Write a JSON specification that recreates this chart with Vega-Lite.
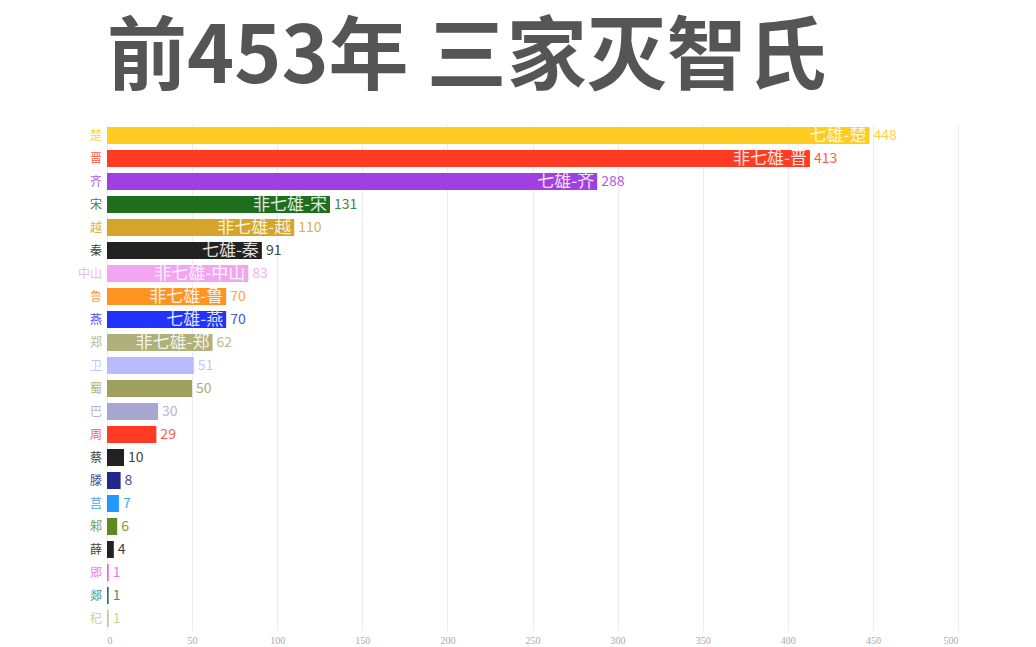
{
  "$schema": "https://vega.github.io/schema/vega-lite/v6.json",
  "width": 851,
  "height": 506,
  "autosize": "none",
  "padding": {"left": 107, "top": 124, "right": 78, "bottom": 17},
  "background": "white",
  "title": {
    "text": "前453年 三家灭智氏",
    "font": "Noto Sans CJK SC",
    "fontSize": 80,
    "fontWeight": "bold",
    "color": "#555555",
    "anchor": "start",
    "frame": "group",
    "offset": 24
  },
  "config": {"view": {"stroke": null}, "font": "Noto Sans CJK SC"},
  "data": {
    "values": [
      {"name": "楚", "value": 448, "label": "七雄-楚"},
      {"name": "晋", "value": 413, "label": "非七雄-晋"},
      {"name": "齐", "value": 288, "label": "七雄-齐"},
      {"name": "宋", "value": 131, "label": "非七雄-宋"},
      {"name": "越", "value": 110, "label": "非七雄-越"},
      {"name": "秦", "value": 91, "label": "七雄-秦"},
      {"name": "中山", "value": 83, "label": "非七雄-中山"},
      {"name": "鲁", "value": 70, "label": "非七雄-鲁"},
      {"name": "燕", "value": 70, "label": "七雄-燕"},
      {"name": "郑", "value": 62, "label": "非七雄-郑"},
      {"name": "卫", "value": 51, "label": ""},
      {"name": "蜀", "value": 50, "label": ""},
      {"name": "巴", "value": 30, "label": ""},
      {"name": "周", "value": 29, "label": ""},
      {"name": "蔡", "value": 10, "label": ""},
      {"name": "滕", "value": 8, "label": ""},
      {"name": "莒", "value": 7, "label": ""},
      {"name": "邾", "value": 6, "label": ""},
      {"name": "薛", "value": 4, "label": ""},
      {"name": "郳", "value": 1, "label": ""},
      {"name": "郯", "value": 1, "label": ""},
      {"name": "杞", "value": 1, "label": ""}
    ]
  },
  "encoding": {
    "y": {
      "field": "name",
      "type": "nominal",
      "sort": null,
      "scale": {"paddingInner": 0.26, "paddingOuter": 0.13},
      "axis": {"labels": false, "ticks": false, "domain": false, "title": null}
    },
    "color": {
      "field": "name",
      "type": "nominal",
      "legend": null,
      "scale": {
        "domain": ["楚","晋","齐","宋","越","秦","中山","鲁","燕","郑","卫","蜀","巴","周","蔡","滕","莒","邾","薛","郳","郯","杞"],
        "range": ["#FFCC22","#FF3B24","#A040E0","#1E6E1E","#D4A52A","#222222","#F2A6F2","#FF9422","#2233FF","#B0B07A","#B8BCFF","#A0A060","#A6A8D0","#FF3B24","#222222","#22288A","#2299FF","#5E8A22","#222222","#F060F0","#2A7A5A","#C8C890"]
      }
    }
  },
  "layer": [
    {
      "mark": {"type": "bar"},
      "encoding": {
        "x": {
          "field": "value",
          "type": "quantitative",
          "scale": {"domain": [0, 500], "nice": false},
          "axis": {
            "values": [0, 50, 100, 150, 200, 250, 300, 350, 400, 450, 500],
            "title": null,
            "domain": false,
            "ticks": false,
            "labelColor": "#aaaaaa",
            "labelFontSize": 10,
            "labelPadding": 5,
            "gridColor": "#f1ecec",
            "labelFont": "Liberation Sans Narrow"
          }
        }
      }
    },
    {
      "transform": [{"filter": "datum.label != ''"}],
      "mark": {"type": "text", "align": "right", "baseline": "middle", "dx": -3, "fontSize": 17, "color": "white", "opacity": 0.85},
      "encoding": {
        "x": {"field": "value", "type": "quantitative"},
        "text": {"field": "label"},
        "color": {"value": "white"}
      }
    },
    {
      "mark": {"type": "text", "align": "left", "baseline": "middle", "dx": 4, "fontSize": 14, "opacity": 0.85},
      "encoding": {
        "x": {"field": "value", "type": "quantitative"},
        "text": {"field": "value", "type": "quantitative"}
      }
    },
    {
      "mark": {"type": "text", "align": "right", "baseline": "middle", "dx": -5, "fontSize": 12, "opacity": 0.85},
      "encoding": {
        "x": {"datum": 0, "type": "quantitative"},
        "text": {"field": "name"}
      }
    }
  ]
}
